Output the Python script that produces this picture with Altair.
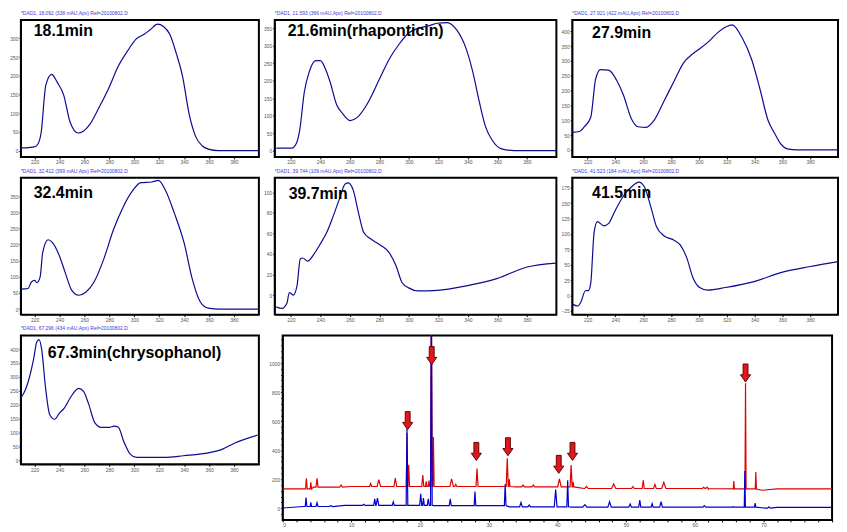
import altair as alt
import pandas as pd

# ---------------- UV spectra (wavelength nm, absorbance mAU) ----------------
s1_wl = [209, 220, 222.6, 225.2, 229, 233.7, 238.1, 243.3, 248.4, 254.9, 258.8, 263.9, 271.7, 279.4, 287.2,
         294.9, 301.4, 307.9, 313, 318.7, 323.4, 328.5, 333.7, 338.9, 344, 349.2, 354.4, 359.5, 367.3, 400]
s1_ab = [7, 10, 17, 47, 175, 204, 183, 149, 77, 47, 51, 68, 115, 166, 226,
         268, 298, 311, 324, 338, 332, 311, 260, 196, 98, 38, 13, 4, 0, 0]

s2_wl = [210, 220.4, 223.7, 225.9, 229.1, 232.4, 236.7, 240, 243.3, 246.5, 250.9, 255.2, 260.2, 265, 271.5,
         280.2, 286.7, 293.3, 299.8, 306.3, 312.8, 319.3, 325.9, 332.4, 338.9, 343.3, 347.6, 352, 356.3,
         362.8, 371.5, 400]
s2_ab = [7, 7, 21, 58, 169, 225, 257, 257, 234, 197, 132, 105, 86, 95, 132,
         206, 262, 304, 336, 350, 356, 364, 366, 345, 290, 225, 142, 68, 31,
         5, 0, 0]

s3_wl = [209, 214.2, 217.7, 222.3, 225.8, 229.3, 235.2, 241, 245.7, 251.5, 256.2, 262.1, 267.9, 274.9, 281.9,
         288.9, 295.9, 300.6, 307.6, 314.6, 324, 331, 338, 343.8, 349.7, 354.3, 359, 363.7, 370.7, 400]
s3_ab = [59, 62, 78, 110, 239, 271, 269, 234, 186, 105, 78, 76, 100, 164, 229,
         293, 325, 341, 368, 400, 422, 379, 304, 207, 100, 57, 19, 3, 0, 0]

s4_wl = [209, 214.8, 217.4, 220, 221.8, 224.4, 226.5, 230.8, 234.2, 239.4, 244.5, 249.7, 255.4, 261.3, 267.7,
         275.5, 283.2, 291, 298.7, 305.2, 314.2, 319.4, 324.5, 332.3, 340, 346.5, 352.9, 359.4, 368.4, 400]
s4_ab = [62, 64, 84, 89, 82, 99, 175, 215, 207, 170, 114, 59, 43, 53, 84,
         155, 245, 316, 367, 392, 394, 399, 372, 296, 205, 94, 23, 3, 0, 0]

s5_wl = [210, 213.9, 217.2, 218.9, 221.5, 224.1, 226.3, 228, 231.3, 235.7, 240, 244.3, 248.7, 253, 256.7,
         258.9, 262.2, 266.1, 269.3, 273.7, 280.2, 286.7, 291.1, 295.4, 299.8, 306.3, 319.3, 338.9, 359.6,
         379.6, 400]
s5_ab = [-11.5, -13, -8, 2.5, 0, 9, 35, 36, 33, 40, 50, 61, 77, 94, 108,
         109, 102, 78, 61, 55, 49, 41, 29, 12, 7, 4, 4.6, 9, 16,
         27, 31]

s6_wl = [209, 213, 215.3, 218.4, 220.7, 222.3, 224.7, 227, 231.7, 235.2, 239.9, 245.7, 251.5, 256.9, 260.9,
         265.6, 269.5, 274.9, 281.9, 286.6, 291.3, 295.9, 300.6, 306.4, 319.3, 340.3, 360.2, 380, 400]
s6_ab = [-14, -17, -10, 7.7, 8, 20, 102, 120, 113, 117, 138, 161, 176, 184, 176,
         143, 112, 97, 90, 82, 61, 28, 13, 8.7, 13, 23, 38, 47, 55]

s7_wl = [209.4, 212.8, 215.3, 219.2, 221.8, 223.6, 225.7, 228.8, 232.1, 236, 239.9, 243.8, 248.9, 255.4, 259.3,
         263.2, 268.3, 273.5, 279.9, 283.8, 287.2, 291.6, 296.7, 301.9, 311, 323.9, 339.4, 360, 370.4,
         380.7, 398.8]
s7_ab = [227, 256, 290, 364, 426, 434, 398, 261, 165, 148, 170, 188, 227, 259, 248,
         205, 136, 119, 119, 123, 119, 68, 23, 11, 11, 11, 17, 28, 40,
         63, 91]

panel_labels = ["18.1min", "21.6min(rhaponticin)", "27.9min", "32.4min", "39.7min", "41.5min",
                "67.3min(chrysophanol)"]
panel_headers = ["*DAD1, 18.092 (338 mAU,Apx) Ref=20100802.D",
                 "*DAD1, 21.593 (366 mAU,Apx) Ref=20100802.D",
                 "*DAD1, 27.921 (422 mAU,Apx) Ref=20100802.D",
                 "*DAD1, 32.412 (399 mAU,Apx) Ref=20100802.D",
                 "*DAD1, 39.744 (109 mAU,Apx) Ref=20100802.D",
                 "*DAD1, 41.523 (184 mAU,Apx) Ref=20100802.D",
                 "*DAD1, 67.296 (434 mAU,Apx) Ref=20100802.D"]
wl_ticks = [220, 240, 260, 280, 300, 320, 340, 360, 380]

# ---------------- chromatogram (time min, mAU) ----------------
red_step_t = [0, 4.5, 10, 34, 44, 62, 69.8, 72]
red_step_v = [133, 146, 150, 147, 136, 133, 124, 133]
red_pk_t = [3.45, 4.1, 5.0, 8.5, 12.8, 14.0, 16.4, 18.1, 18.35, 20.4, 20.9, 21.3, 21.65, 21.95, 24.6, 25.2,
            28.3, 32.7, 33.0, 35.0, 36.5, 40.3, 42.0, 42.3, 44.2, 48.2, 51.0, 52.5, 54.2, 55.5, 61.3, 61.8,
            65.7, 67.4, 68.9]
red_pk_v = [207, 178, 207, 160, 170, 197, 207, 520, 300, 229, 185, 190, 1500, 490, 203, 165,
            273, 345, 200, 160, 160, 203, 298, 180, 150, 167, 150, 192, 165, 178, 145, 145,
            188, 860, 250]
red_pk_w = [0.12, 0.1, 0.15, 0.2, 0.15, 0.25, 0.2, 0.1, 0.12, 0.15, 0.1, 0.1, 0.12, 0.1, 0.25, 0.15,
            0.15, 0.15, 0.1, 0.2, 0.2, 0.25, 0.15, 0.1, 0.3, 0.3, 0.2, 0.15, 0.2, 0.3, 0.2, 0.2,
            0.08, 0.08, 0.08]

blue_step_t = [0, 3, 9, 22, 33, 42, 70.3, 72]
blue_step_v = [2, 12, 20, 18, 10, 8, 1, 6]
blue_pk_t = [3.4, 4.1, 5.0, 7.0, 11.8, 13.4, 13.8, 16.1, 18.1, 20.1, 20.5, 21.2, 21.65, 24.4, 28.0, 32.4,
             34.7, 35.9, 39.75, 41.5, 44.0, 47.6, 50.6, 52.0, 53.8, 55.1, 61.4, 65.6, 67.3, 68.8, 70.8]
blue_pk_v = [74, 40, 38, 18, 28, 65, 70, 44, 550, 100, 70, 65, 1500, 65, 115, 167,
             40, 22, 129, 193, 25, 45, 30, 57, 32, 45, 18, 12, 256, 36, 10]
blue_pk_w = [0.12, 0.1, 0.15, 0.3, 0.2, 0.15, 0.2, 0.15, 0.12, 0.15, 0.12, 0.15, 0.12, 0.15, 0.12, 0.12,
             0.2, 0.2, 0.2, 0.12, 0.3, 0.25, 0.2, 0.15, 0.15, 0.2, 0.2, 0.08, 0.08, 0.1, 0.2]

arrow_t = [18.2, 21.7, 28.2, 32.8, 40.2, 42.2, 67.4]
arrow_tip = [542, 990, 330, 362, 241, 330, 870]

chrom_x_ticks = list(range(0, 81, 2))
chrom_y_ticks = list(range(-40, 1161, 40))

SPEC = "#0c0c92"
RED = "#e00000"
BLUE = "#0000cc"
FONT = "Liberation Sans"


def trace(step_t, step_v, pk_t, pk_v, pk_w, end=80):
    pts = list(zip(step_t, step_v)) + [(end, step_v[-1])]
    for t, v, w in zip(pk_t, pk_v, pk_w):
        i = max(k for k, s in enumerate(step_t) if s <= t)
        b = step_v[i]
        pts += [(t - w, b), (t, v), (t + w, b)]
    pts.sort()
    return pd.DataFrame(pts, columns=["t", "v"])


def spectrum(wl, ab, header, label, ydom, yvals, w, h, lx, ly):
    df = pd.DataFrame({"wl": wl, "ab": ab})
    line = alt.Chart(df).mark_line(color=SPEC, strokeWidth=1.2, clip=True, interpolate="monotone").encode(
        x=alt.X("wl:Q", scale=alt.Scale(domain=[209, 400], nice=False, zero=False),
                axis=alt.Axis(values=wl_ticks, title=None, minExtent=8, maxExtent=8)),
        y=alt.Y("ab:Q", scale=alt.Scale(domain=ydom, nice=False, zero=False),
                axis=alt.Axis(values=yvals, title=None, minExtent=10, maxExtent=10)),
    )
    txt = alt.Chart(pd.DataFrame({"lab": [label]})).mark_text(
        align="left", baseline="alphabetic", font=FONT, fontSize=16, fontWeight="bold", color="black"
    ).encode(x=alt.value(lx), y=alt.value(ly), text="lab:N")
    return alt.layer(line, txt).properties(
        width=w, height=h,
        title=alt.TitleParams(header, anchor="start", frame="group", fontSize=5, color="#3a3ad6",
                              font=FONT, fontWeight="normal", offset=4),
    )


p1 = spectrum(s1_wl, s1_ab, panel_headers[0], panel_labels[0], [-17, 349], list(range(0, 301, 50)), 240, 138, 13, 16)
p2 = spectrum(s2_wl, s2_ab, panel_headers[1], panel_labels[1], [-18, 373], list(range(0, 351, 50)), 284, 138, 13, 16)
p3 = spectrum(s3_wl, s3_ab, panel_headers[2], panel_labels[2], [-24, 438], list(range(0, 401, 50)), 268, 138, 20, 18)
p4 = spectrum(s4_wl, s4_ab, panel_headers[3], panel_labels[3], [-17, 407], list(range(0, 351, 50)), 240, 138, 13, 20)
p5 = spectrum(s5_wl, s5_ab, panel_headers[4], panel_labels[4], [-19, 114], list(range(0, 101, 20)), 284, 138, 14, 21)
p6 = spectrum(s6_wl, s6_ab, panel_headers[5], panel_labels[5], [-31, 191], list(range(-25, 176, 25)), 268, 138, 20, 20)
p7 = spectrum(s7_wl, s7_ab, panel_headers[6], panel_labels[6], [-14, 449], list(range(0, 401, 50)), 240, 130, 27, 23)

red_df = trace(red_step_t, red_step_v, red_pk_t, red_pk_v, red_pk_w)
blue_df = trace(blue_step_t, blue_step_v, blue_pk_t, blue_pk_v, blue_pk_w)

xs = alt.Scale(domain=[0, 80], nice=False, zero=False)
ys = alt.Scale(domain=[-80, 1190], nice=False, zero=False)
xax = alt.Axis(values=chrom_x_ticks, title=None, minExtent=8, maxExtent=8,
               labelExpr="(datum.value % 10 === 0 && datum.value < 80) ? datum.label : ''")
yax = alt.Axis(values=chrom_y_ticks, title=None, minExtent=20, maxExtent=20, format="d",
               labelExpr="(datum.value % 200 === 0) ? datum.label : ''")

red_line = alt.Chart(red_df).mark_line(color=RED, strokeWidth=1.2, clip=True).encode(
    x=alt.X("t:Q", scale=xs, axis=xax), y=alt.Y("v:Q", scale=ys, axis=yax))
blue_line = alt.Chart(blue_df).mark_line(color=BLUE, strokeWidth=1.2, clip=True).encode(
    x=alt.X("t:Q", scale=xs, axis=xax), y=alt.Y("v:Q", scale=ys, axis=yax))

ARROW = "M-0.27,-1L0.27,-1L0.27,0.2L0.56,0.2L0,1L-0.56,0.2L-0.27,0.2Z"
arrows = alt.Chart(pd.DataFrame({"t": arrow_t, "v": arrow_tip})).mark_point(
    shape=ARROW, size=330, filled=True, fill="#e5161b", stroke="#5a0808", strokeWidth=1,
    opacity=1, yOffset=-9
).encode(x=alt.X("t:Q", scale=xs, axis=xax), y=alt.Y("v:Q", scale=ys, axis=yax))

chrom = alt.layer(red_line, blue_line, arrows).properties(width=554, height=186)

row1 = alt.hconcat(p1, p2, p3, spacing=2)
row2 = alt.hconcat(p4, p5, p6, spacing=2)
row3 = alt.hconcat(p7, chrom, spacing=2)

chart = alt.vconcat(row1, row2, row3, spacing=2).properties(
    padding=0, background="white"
).configure_view(
    stroke="black", strokeWidth=2
).configure_axis(
    grid=False, labelFont=FONT, labelFontSize=5, labelColor="#555555",
    domainColor="black", domainWidth=1, tickColor="black", tickSize=2, labelPadding=1,
)

chart.save("out.html", embed_options={"renderer": "svg", "actions": False})
